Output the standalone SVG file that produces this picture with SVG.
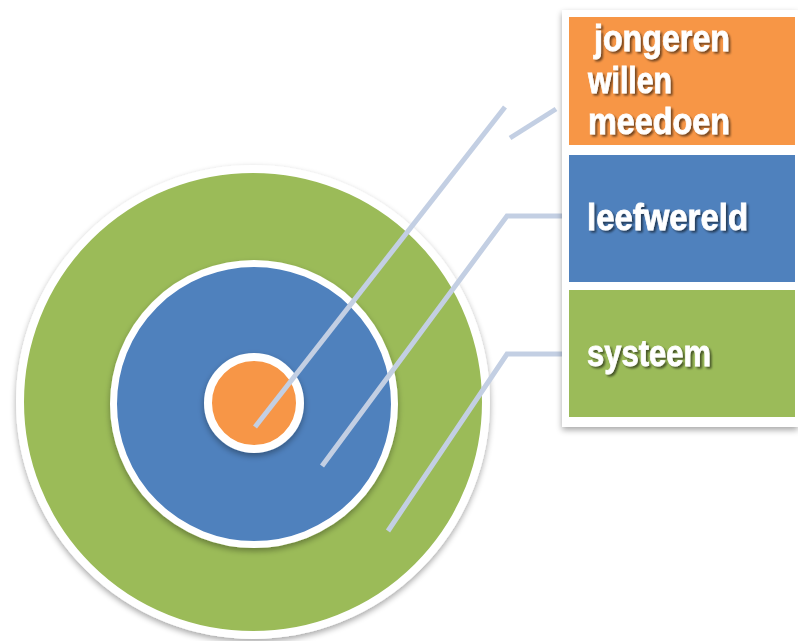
<svg xmlns="http://www.w3.org/2000/svg" width="798" height="641" viewBox="0 0 798 641">
  <defs>
    <filter id="sh" x="-20%" y="-20%" width="140%" height="140%">
      <feGaussianBlur in="SourceAlpha" stdDeviation="3"/>
      <feOffset dx="0" dy="3" result="b"/>
      <feComponentTransfer><feFuncA type="linear" slope="0.35"/></feComponentTransfer>
      <feMerge><feMergeNode/><feMergeNode in="SourceGraphic"/></feMerge>
    </filter>
    <filter id="tsh" x="-10%" y="-20%" width="120%" height="150%">
      <feGaussianBlur in="SourceAlpha" stdDeviation="1.2"/>
      <feOffset dx="1.5" dy="2" result="b"/>
      <feComponentTransfer><feFuncA type="linear" slope="0.55"/></feComponentTransfer>
      <feMerge><feMergeNode/><feMergeNode in="SourceGraphic"/></feMerge>
    </filter>
  </defs>
  <style>
    .ring { stroke: #ffffff; }
    .conn { fill: none; stroke: #c3cfe3; stroke-width: 5; stroke-linejoin: miter; }
    .lbl { font-family: "Liberation Sans", Arial, sans-serif; font-weight: bold; font-size: 37px; fill: #ffffff; stroke: #ffffff; stroke-width: 0.8; }
  </style>
  <rect width="798" height="641" fill="#ffffff"/>

  <g id="systeem-ring" filter="url(#sh)">
    <circle class="ring" cx="253" cy="402" r="233" fill="#9bbb59" stroke-width="8"/>
  </g>
  <g id="leefwereld-ring" filter="url(#sh)">
    <circle class="ring" cx="254" cy="404" r="140.5" fill="#4f81bd" stroke-width="7"/>
  </g>
  <g id="jongeren-core" filter="url(#sh)">
    <circle class="ring" cx="254" cy="403" r="46" fill="#f79646" stroke-width="8"/>
  </g>

  <g id="connectors">
    <line class="conn" x1="255" y1="427" x2="505" y2="107"/>
    <line class="conn" x1="510" y1="138" x2="556" y2="109"/>
    <polyline class="conn" points="322,466 507,216 565,216"/>
    <polyline class="conn" points="388,531 507,354 565,354"/>
  </g>

  <g id="legend" filter="url(#sh)">
    <rect x="562" y="10" width="236" height="417" fill="#ffffff"/>
  </g>
  <g id="legend-jongeren">
    <rect x="569" y="17" width="226" height="128" fill="#f79646"/>
    <g filter="url(#tsh)">
      <text class="lbl" x="594" y="51" textLength="136" lengthAdjust="spacingAndGlyphs">jongeren</text>
      <text class="lbl" x="588" y="93" textLength="84" lengthAdjust="spacingAndGlyphs">willen</text>
      <text class="lbl" x="588" y="134" textLength="142" lengthAdjust="spacingAndGlyphs">meedoen</text>
    </g>
  </g>
  <g id="legend-leefwereld">
    <rect x="569" y="155" width="226" height="127" fill="#4f81bd"/>
    <text class="lbl" x="587" y="230" textLength="161" lengthAdjust="spacingAndGlyphs" filter="url(#tsh)">leefwereld</text>
  </g>
  <g id="legend-systeem">
    <rect x="569" y="290" width="226" height="127" fill="#9bbb59"/>
    <text class="lbl" x="587" y="366" textLength="124" lengthAdjust="spacingAndGlyphs" filter="url(#tsh)">systeem</text>
  </g>
</svg>
